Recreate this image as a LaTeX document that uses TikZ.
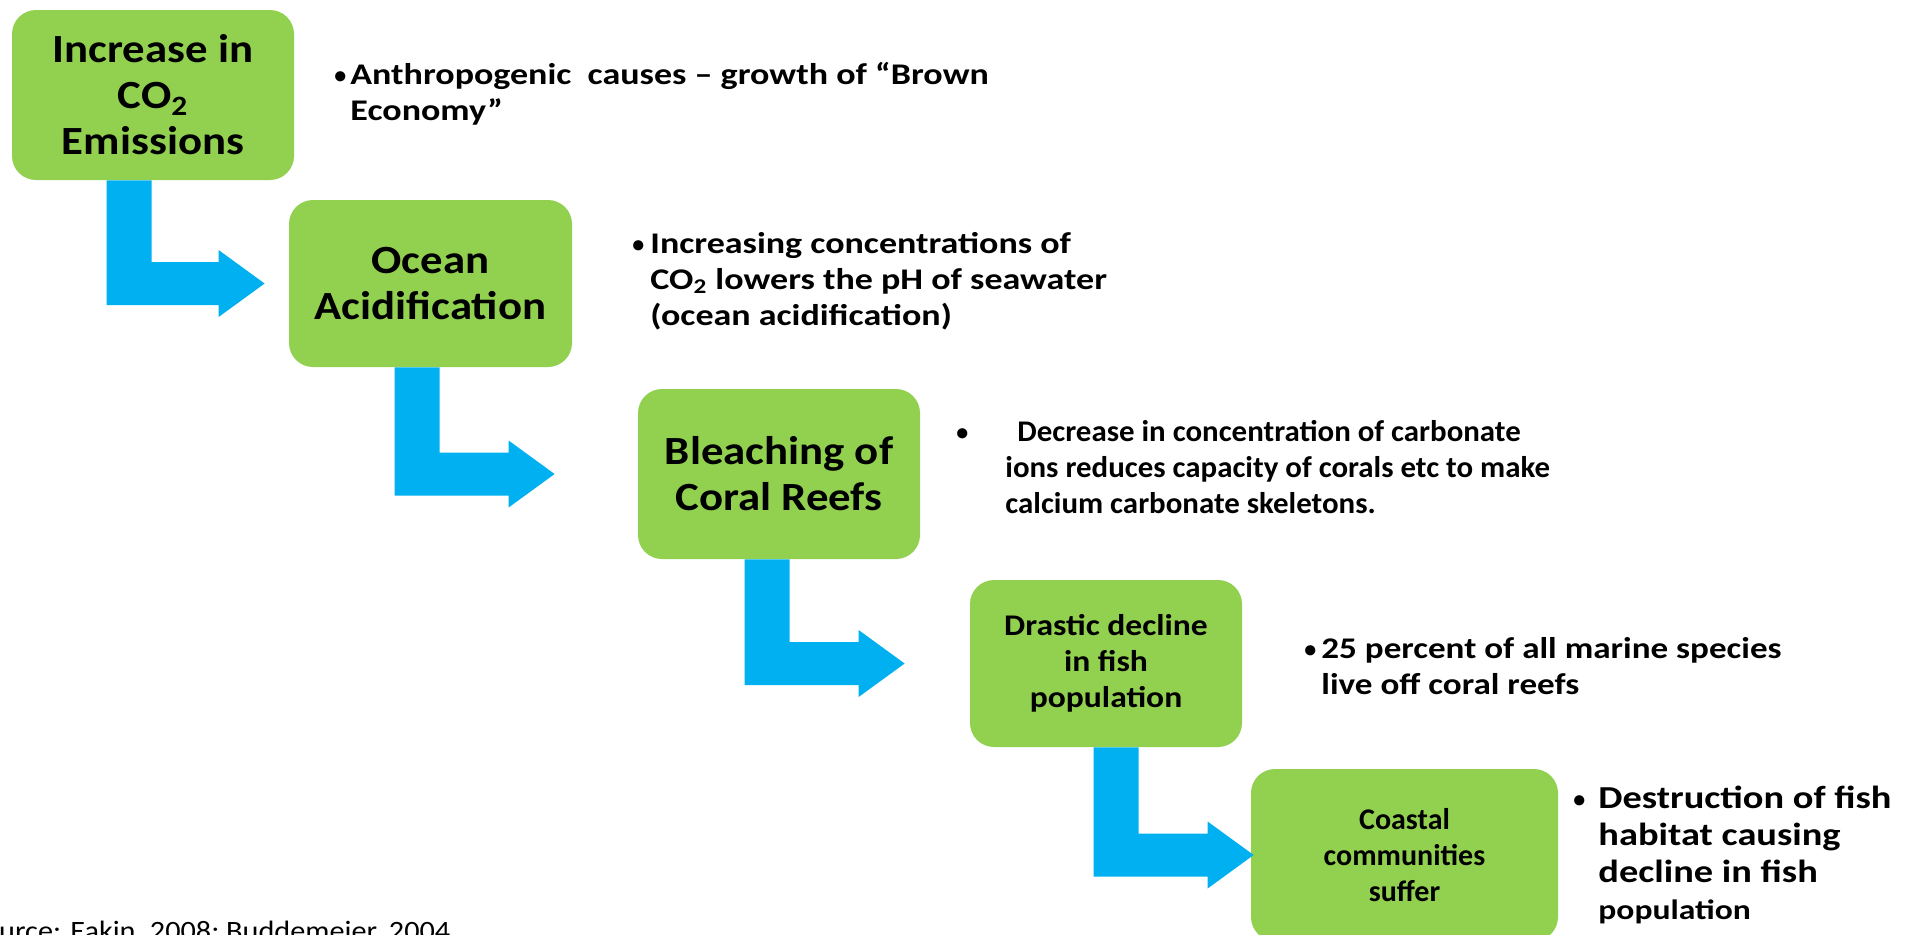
\documentclass[tikz,border=0pt]{standalone}
\usepackage{fontspec}
\setmainfont{Carlito}
\newfontfamily\boxfont{Carlito}[FakeStretch=1.12]
\newfontfamily\plainfont{Carlito}
\newfontfamily\widefont{Carlito}[FakeStretch=1.2]
\newfontfamily\midfont{Carlito}[FakeStretch=1.17]
\newfontfamily\narrowfont{Carlito}[FakeStretch=1.03]
\newfontfamily\srcfont{Carlito}[FakeStretch=1.08]
\usetikzlibrary{calc}
\definecolor{boxgreen}{HTML}{92D050}
\definecolor{arrowblue}{HTML}{00B0F0}
% #1 from node, #2 bar offset (px) from its south west, #3 to node, #4 gap (px) before to.west
\newcommand{\elbowarrow}[4]{%
\fill[arrowblue] let \p1=($(#1.south west)+(#2,0)$), \p2=($(#3.west)+(-#4,0)$) in
 (\x1,\y1) -- (\x1+22.5pt,\y1) -- (\x1+22.5pt,\y2+10.75pt) -- (\x2-23pt,\y2+10.75pt)
 -- (\x2-23pt,\y2+16.75pt) -- (\x2,\y2) -- (\x2-23pt,\y2-16.75pt) -- (\x2-23pt,\y2-10.75pt)
 -- (\x1,\y2-10.75pt) -- cycle;}
\newcommand{\bul}[1]{\makebox[#1][l]{\plainfont\fontsize{12}{12}\selectfont\raisebox{0.5pt}{•}}}
\begin{document}
\begin{tikzpicture}[x=0.5pt,y=-0.5pt,
 stepbox/.style={fill=boxgreen, rounded corners=12pt, align=center, inner sep=0pt,
   font=\boxfont\bfseries\fontsize{20}{23}\selectfont},
 smallbox/.style={stepbox, font=\boxfont\bfseries\fontsize{15}{18}\selectfont},
 bullettext/.style={anchor=base west, inner sep=0pt, font=\widefont\bfseries\fontsize{15}{18}\selectfont}]
\useasboundingbox (0,0) rectangle (1905,934);
\fill[white] (0,0) rectangle (1905,934);

\node[stepbox, minimum width=141pt, minimum height=85pt] (b1) at (153,95) {Increase in\\CO\textsubscript{2}\\Emissions};
\node[stepbox, minimum width=141.5pt, minimum height=83.5pt] (b2) at (430.5,283.5) {Ocean\\Acidification};
\node[stepbox, minimum width=141pt, minimum height=85pt] (b3) at (779,474) {Bleaching of\\Coral Reefs};
\node[smallbox, minimum width=136pt, minimum height=83.5pt] (b4) at (1106,663.5) {Drastic decline\\in fish\\population};
\node[smallbox, font=\plainfont\bfseries\fontsize{15}{18}\selectfont, minimum width=153.5pt, minimum height=86pt] (b5) at (1404.5,855) {Coastal\\communities\\suffer};

\elbowarrow{b1}{95}{b2}{24}
\elbowarrow{b2}{106}{b3}{83}
\elbowarrow{b3}{107}{b4}{65}
\elbowarrow{b4}{124}{b5}{-3}

\node[bullettext] (t1) at (334,84) {\begin{tabular}[t]{@{}l@{}l@{}}\bul{8pt}&Anthropogenic\ \ causes – growth of “Brown\\&Economy”\end{tabular}};
\node[bullettext] (t2) at (632,253) {\begin{tabular}[t]{@{}l@{}l@{}}\bul{9pt}&Increasing concentrations of\\&CO\textsubscript{2} lowers the pH of seawater\\&(ocean acidification)\end{tabular}};
\node[bullettext, font=\narrowfont\bfseries\fontsize{15}{18}\selectfont] (t3) at (956,441) {\begin{tabular}[t]{@{}l@{}l@{}}\bul{24.5pt}&\hspace{6pt}Decrease in concentration of carbonate\\&ions reduces capacity of corals etc to make\\&calcium carbonate skeletons.\end{tabular}};
\node[bullettext, font=\midfont\bfseries\fontsize{15}{18}\selectfont] (t4) at (1304,658) {\begin{tabular}[t]{@{}l@{}l@{}}\bul{8.5pt}&25 percent of all marine species\\&live off coral reefs\end{tabular}};
\node[bullettext, font=\widefont\bfseries\fontsize{16}{18.5}\selectfont] (t5) at (1573,808) {\begin{tabular}[t]{@{}l@{}l@{}}\bul{12.5pt}&Destruction of fish\\&habitat causing\\&decline in fish\\&{\fontsize{14}{16}\selectfont population}\end{tabular}};

\node[anchor=base west, inner sep=0pt, font=\srcfont\fontsize{14}{17}\selectfont] (src) at (-31,940) {Source: Eakin, 2008; Buddemeier, 2004};
\end{tikzpicture}
\end{document}
